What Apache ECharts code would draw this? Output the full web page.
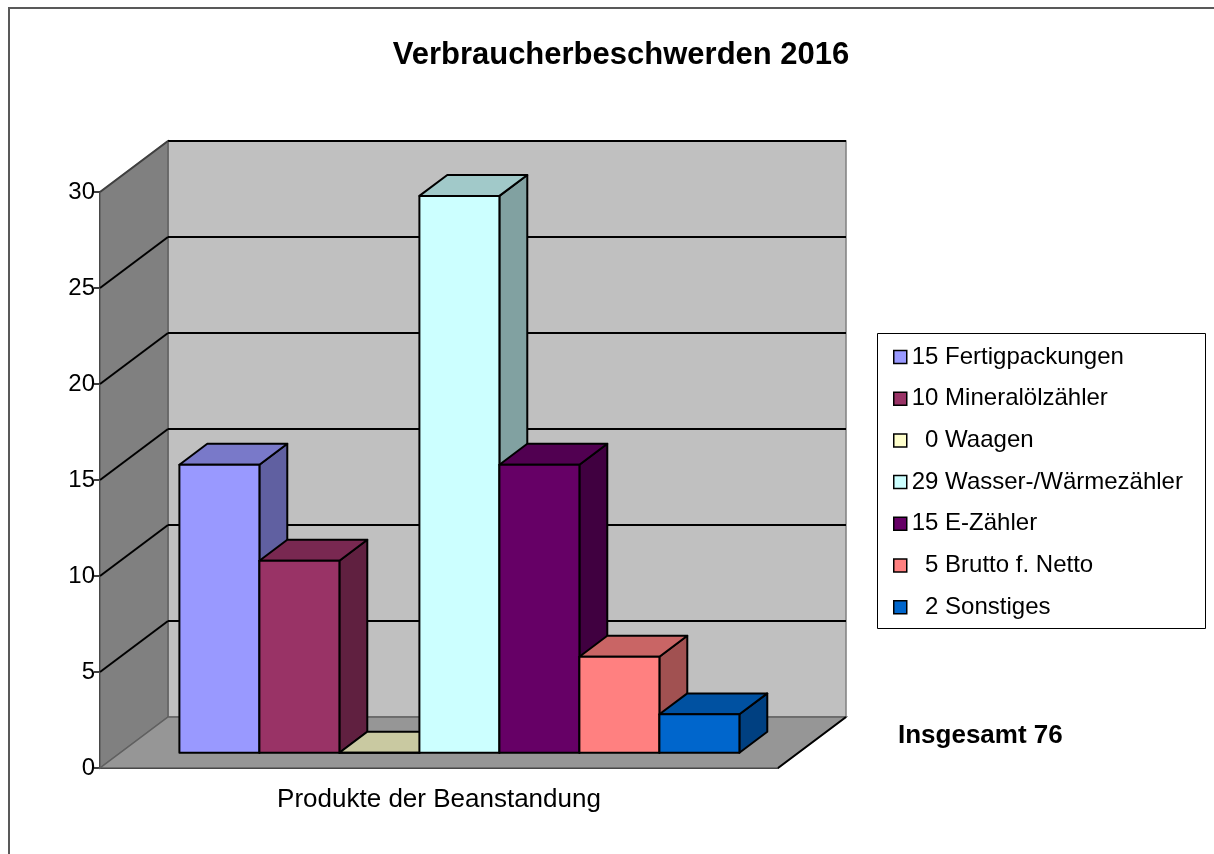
<!DOCTYPE html>
<html>
<head>
<meta charset="utf-8">
<title>Verbraucherbeschwerden 2016</title>
<script src="https://cdn.jsdelivr.net/npm/echarts@6/dist/echarts.min.js"></script>
<style>
    html, body { margin: 0; padding: 0; background: #fff; }
    #chart { width: 1214px; height: 854px; }
</style>
</head>
<body>
<div id="chart"></div>
<script>
// Daten
var axisCategory = ['Produkte der Beanstandung'];
var products = ['Fertigpackungen', 'Mineralölzähler', 'Waagen', 'Wasser-/Wärmezähler', 'E-Zähler', 'Brutto f. Netto', 'Sonstiges'];
var counts = [15, 10, 0, 29, 15, 5, 2];
var yTicks = [0, 5, 10, 15, 20, 25, 30];
var barColors = ['#9999FF', '#993366', '#FFFFCC', '#CCFFFF', '#660066', '#FF8080', '#0066CC'];

var FONT = "'Liberation Sans', Arial, sans-serif";
// 3D Tiefe (Pixel) und Lage der Säulen in der Tiefe
var DX = 68, DY = -51;
var F1 = 0.3, F2 = 0.71;
var BAR_FRAC = 80 / 678;

function shade(hex, f) {
    var r = parseInt(hex.substr(1, 2), 16), g = parseInt(hex.substr(3, 2), 16), b = parseInt(hex.substr(5, 2), 16);
    return 'rgb(' + Math.round(r * f) + ',' + Math.round(g * f) + ',' + Math.round(b * f) + ')';
}

function legendName(i) {
    return (counts[i] < 10 ? '  ' : '') + counts[i] + ' ' + products[i];
}

var total = 0;
for (var k = 0; k < counts.length; k++) total += counts[k];

var chart = echarts.init(document.getElementById('chart'));

// Wände und Boden
function renderWalls(params, api) {
    var p0 = api.coord([0, 0]);
    var band = api.size([1, 0])[0];
    var left = p0[0] - band / 2, right = p0[0] + band / 2;
    var yMax = api.coord([0, yTicks[yTicks.length - 1]])[1];
    var yMin = p0[1];
    var children = [];
    // Rückwand
    children.push({ type: 'rect', shape: { x: left + DX, y: yMax + DY, width: band, height: yMin - yMax },
        style: { fill: '#C0C0C0', stroke: '#808080', lineWidth: 1.5 } });
    // Seitenwand
    children.push({ type: 'polygon', shape: { points: [[left, yMax], [left + DX, yMax + DY], [left + DX, yMin + DY], [left, yMin]] },
        style: { fill: '#808080', stroke: '#606060', lineWidth: 1.5 } });
    // Boden
    children.push({ type: 'polygon', shape: { points: [[left, yMin], [right, yMin], [right + DX, yMin + DY], [left + DX, yMin + DY]] },
        style: { fill: '#969696', stroke: '#606060', lineWidth: 1.5 } });
    children.push({ type: 'line', shape: { x1: right, y1: yMin, x2: right + DX, y2: yMin + DY },
        style: { stroke: '#000', lineWidth: 2 } });
    // Gitterlinien
    for (var i = 1; i < yTicks.length; i++) {
        var y = api.coord([0, yTicks[i]])[1];
        children.push({ type: 'line', shape: { x1: left + DX, y1: y + DY, x2: right + DX, y2: y + DY },
            style: { stroke: '#000', lineWidth: 2 } });
        children.push({ type: 'line', shape: { x1: left, y1: y, x2: left + DX, y2: y + DY },
            style: { stroke: i === yTicks.length - 1 ? '#404040' : '#000', lineWidth: 2 } });
    }
    return { type: 'group', children: children };
}

function makeBarRenderer(idx) {
    var n = counts.length;
    return function (params, api) {
        var base = api.coord([api.value(0), 0]);
        var top = api.coord([api.value(0), api.value(1)]);
        var band = api.size([1, 0])[0];
        var bw = band * BAR_FRAC;
        var x0 = base[0] - bw * n / 2 + idx * bw + DX * F1;
        var y0 = base[1] + DY * F1;
        var yt = top[1] + DY * F1;
        var ddx = DX * (F2 - F1), ddy = DY * (F2 - F1);
        var c = barColors[idx];
        var line = { stroke: '#000', lineWidth: 2, lineJoin: 'round' };
        return {
            type: 'group',
            children: [
                { type: 'polygon', shape: { points: [[x0 + bw, yt], [x0 + bw, y0], [x0 + bw + ddx, y0 + ddy], [x0 + bw + ddx, yt + ddy]] },
                    style: Object.assign({ fill: shade(c, 0.63) }, line) },
                { type: 'polygon', shape: { points: [[x0, yt], [x0 + bw, yt], [x0 + bw + ddx, yt + ddy], [x0 + ddx, yt + ddy]] },
                    style: Object.assign({ fill: shade(c, 0.79) }, line) },
                { type: 'rect', shape: { x: x0, y: yt, width: bw, height: y0 - yt },
                    style: Object.assign({ fill: c }, line) }
            ]
        };
    };
}

var series = [{
    name: 'walls',
    type: 'custom',
    renderItem: renderWalls,
    clip: false,
    silent: true,
    data: [[0, 0]]
}];
var legendData = [];
for (var i = 0; i < products.length; i++) {
    legendData.push(legendName(i));
    series.push({
        name: legendName(i),
        type: 'custom',
        renderItem: makeBarRenderer(i),
        clip: false,
        itemStyle: { color: barColors[i] },
        encode: { x: 0, y: 1 },
        data: [[0, counts[i]]]
    });
}

var option = {
    animation: false,
    backgroundColor: '#fff',
    title: {
        text: 'Verbraucherbeschwerden 2016',
        left: 621,
        top: 40,
        padding: 0,
        textAlign: 'center',
        textStyle: { fontFamily: FONT, fontSize: 31, fontWeight: 'bold', color: '#000' }
    },
    legend: {
        data: legendData,
        orient: 'vertical',
        left: 893,
        top: 344,
        padding: 0,
        itemWidth: 13,
        itemHeight: 13,
        itemGap: 15.7,
        icon: 'rect',
        itemStyle: { borderColor: '#000', borderWidth: 1.5 },
        textStyle: { fontFamily: FONT, fontSize: 24, lineHeight: 26, color: '#000' }
    },
    grid: { left: 100, top: 192, width: 678, height: 576 },
    xAxis: {
        type: 'category',
        data: axisCategory,
        axisLine: { lineStyle: { color: '#000', width: 2 } },
        axisTick: { length: 7, lineStyle: { color: '#000', width: 1.5 } },
        axisLabel: { margin: 19, fontFamily: FONT, fontSize: 26, color: '#000' }
    },
    yAxis: {
        type: 'value',
        min: 0,
        max: 30,
        interval: 5,
        axisLine: { show: true, lineStyle: { color: '#000', width: 2 } },
        axisTick: { show: true, length: 6, lineStyle: { color: '#000', width: 1.5 } },
        axisLabel: { margin: 5, fontFamily: FONT, fontSize: 24, color: '#000' },
        splitLine: { show: false }
    },
    graphic: [
        { type: 'rect', shape: { x: 9, y: 8, width: 1300, height: 900 }, style: { fill: 'none', stroke: '#595959', lineWidth: 2 }, z: -10 },
        { type: 'rect', shape: { x: 877.5, y: 333.5, width: 328, height: 295 }, style: { fill: '#fff', stroke: '#000', lineWidth: 1 } },
        { type: 'text', left: 898, top: 723, style: { text: 'Insgesamt ' + total, fontFamily: FONT, fontSize: 26, fontWeight: 'bold', fill: '#000' } }
    ],
    series: series
};
chart.setOption(option);
</script>
</body>
</html>
